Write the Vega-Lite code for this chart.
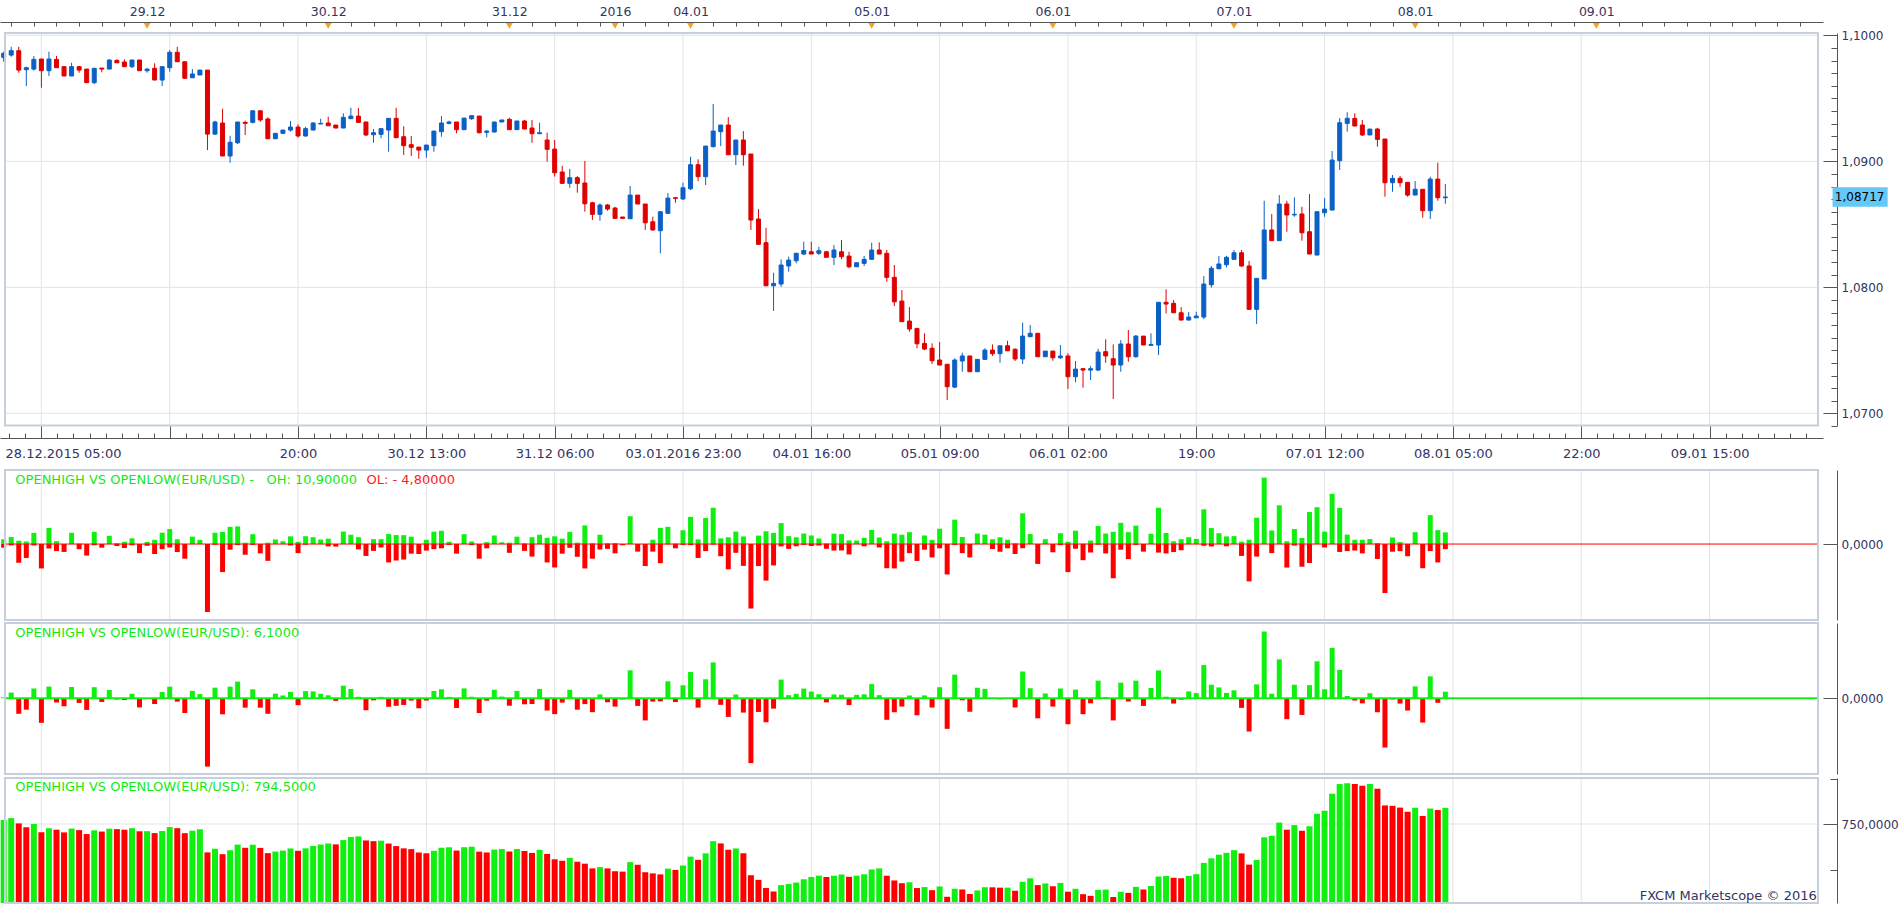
{
"$schema": "https://vega.github.io/schema/vega-lite/v6.json",
"width": 1903, "height": 905, "padding": 0, "autosize": {"type": "none"}, "background": "white",
"config": {"view": {"stroke": null}, "font": "DejaVu Sans", "axis": {"labelFont": "DejaVu Sans", "labelColor": "#34345f", "domainColor": "#555555", "tickColor": "#555555", "grid": false, "labelOverlap": false, "labelBound": false}},
"datasets": {
"grid": [{"j":4},{"j":21},{"j":38},{"j":55},{"j":72},{"j":89},{"j":106},{"j":123},{"j":140},{"j":157},{"j":174},{"j":191},{"j":208},{"j":225}],
"markers": [{"j":18},{"j":42},{"j":66},{"j":80},{"j":90},{"j":114},{"j":138},{"j":162},{"j":186},{"j":210}],
"c": [
{"j":-1,"o":1.09825,"h":1.0987,"l":1.0979,"c":1.09857,"oh":4.5,"ol":-3.5,"net":1.0,"cum":760.8},
{"j":0,"o":1.09843,"h":1.09909,"l":1.0983,"c":1.09878,"oh":6.6,"ol":-1.3,"net":5.3,"cum":766.1},
{"j":1,"o":1.09878,"h":1.09909,"l":1.09703,"c":1.09724,"oh":3.1,"ol":-17.5,"net":-14.4,"cum":751.7},
{"j":2,"o":1.09727,"h":1.09751,"l":1.09597,"c":1.09743,"oh":2.4,"ol":-13.0,"net":-10.6,"cum":741.1},
{"j":3,"o":1.09732,"h":1.09836,"l":1.09719,"c":1.09809,"oh":10.4,"ol":-1.3,"net":9.1,"cum":750.2},
{"j":4,"o":1.09812,"h":1.09812,"l":1.09584,"c":1.09719,"oh":0,"ol":-22.8,"net":-22.8,"cum":727.4},
{"j":5,"o":1.09719,"h":1.0987,"l":1.09677,"c":1.09812,"oh":15.1,"ol":-4.2,"net":10.9,"cum":738.3},
{"j":6,"o":1.09809,"h":1.09836,"l":1.09743,"c":1.09743,"oh":2.7,"ol":-6.6,"net":-3.9,"cum":734.4},
{"j":7,"o":1.09751,"h":1.09751,"l":1.09677,"c":1.09677,"oh":0,"ol":-7.4,"net":-7.4,"cum":727.0},
{"j":8,"o":1.09677,"h":1.09782,"l":1.09677,"c":1.09751,"oh":10.5,"ol":0,"net":10.5,"cum":737.5},
{"j":9,"o":1.09751,"h":1.09756,"l":1.09703,"c":1.09724,"oh":0.5,"ol":-4.8,"net":-4.3,"cum":733.2},
{"j":10,"o":1.09732,"h":1.09732,"l":1.09624,"c":1.09624,"oh":0,"ol":-10.8,"net":-10.8,"cum":722.4},
{"j":11,"o":1.09624,"h":1.09738,"l":1.09613,"c":1.09738,"oh":11.4,"ol":-1.1,"net":10.3,"cum":732.7},
{"j":12,"o":1.0974,"h":1.0974,"l":1.09706,"c":1.09732,"oh":0,"ol":-3.4,"net":-3.4,"cum":729.3},
{"j":13,"o":1.09732,"h":1.09809,"l":1.09732,"c":1.09804,"oh":7.7,"ol":0,"net":7.7,"cum":737.0},
{"j":14,"o":1.09801,"h":1.09809,"l":1.09782,"c":1.09782,"oh":0.8,"ol":-1.9,"net":-1.1,"cum":735.9},
{"j":15,"o":1.09788,"h":1.09809,"l":1.09751,"c":1.09751,"oh":2.1,"ol":-3.7,"net":-1.6,"cum":734.3},
{"j":16,"o":1.09751,"h":1.09804,"l":1.0974,"c":1.09804,"oh":5.3,"ol":-1.1,"net":4.2,"cum":738.5},
{"j":17,"o":1.09804,"h":1.09804,"l":1.09719,"c":1.09719,"oh":0,"ol":-8.5,"net":-8.5,"cum":730.0},
{"j":18,"o":1.09719,"h":1.09738,"l":1.09703,"c":1.09732,"oh":1.9,"ol":-1.6,"net":0.3,"cum":730.3},
{"j":19,"o":1.09738,"h":1.09778,"l":1.09645,"c":1.09645,"oh":4.0,"ol":-9.3,"net":-5.3,"cum":725.0},
{"j":20,"o":1.09645,"h":1.09751,"l":1.09597,"c":1.09751,"oh":10.6,"ol":-4.8,"net":5.8,"cum":730.8},
{"j":21,"o":1.09743,"h":1.09883,"l":1.09711,"c":1.09865,"oh":14.0,"ol":-3.2,"net":10.8,"cum":741.6},
{"j":22,"o":1.09865,"h":1.09909,"l":1.0979,"c":1.0979,"oh":4.4,"ol":-7.5,"net":-3.1,"cum":738.5},
{"j":23,"o":1.0979,"h":1.0979,"l":1.09653,"c":1.09659,"oh":0,"ol":-13.7,"net":-13.7,"cum":724.8},
{"j":24,"o":1.09663,"h":1.09732,"l":1.09663,"c":1.09693,"oh":6.9,"ol":0,"net":6.9,"cum":731.7},
{"j":25,"o":1.09685,"h":1.09724,"l":1.09685,"c":1.09724,"oh":3.9,"ol":0,"net":3.9,"cum":735.6},
{"j":26,"o":1.09724,"h":1.09724,"l":1.09089,"c":1.09216,"oh":0,"ol":-63.5,"net":-63.5,"cum":672.1},
{"j":27,"o":1.09216,"h":1.09322,"l":1.09209,"c":1.09312,"oh":10.6,"ol":-0.7,"net":9.9,"cum":682.0},
{"j":28,"o":1.09304,"h":1.09417,"l":1.09042,"c":1.09042,"oh":11.3,"ol":-26.2,"net":-14.9,"cum":667.1},
{"j":29,"o":1.09042,"h":1.09203,"l":1.08989,"c":1.09151,"oh":16.1,"ol":-5.3,"net":10.8,"cum":677.9},
{"j":30,"o":1.09147,"h":1.09312,"l":1.09137,"c":1.09312,"oh":16.5,"ol":-1.0,"net":15.5,"cum":693.4},
{"j":31,"o":1.09309,"h":1.09322,"l":1.09209,"c":1.09301,"oh":1.3,"ol":-10.0,"net":-8.7,"cum":684.7},
{"j":32,"o":1.09309,"h":1.09401,"l":1.09301,"c":1.09401,"oh":9.2,"ol":-0.8,"net":8.4,"cum":693.1},
{"j":33,"o":1.09401,"h":1.09401,"l":1.09314,"c":1.09328,"oh":0,"ol":-8.7,"net":-8.7,"cum":684.4},
{"j":34,"o":1.09336,"h":1.09349,"l":1.09179,"c":1.09179,"oh":1.3,"ol":-15.7,"net":-14.4,"cum":670.0},
{"j":35,"o":1.09179,"h":1.09222,"l":1.09179,"c":1.09222,"oh":4.3,"ol":0,"net":4.3,"cum":674.3},
{"j":36,"o":1.09222,"h":1.09248,"l":1.09222,"c":1.09248,"oh":2.6,"ol":0,"net":2.6,"cum":676.9},
{"j":37,"o":1.09248,"h":1.0932,"l":1.09235,"c":1.09272,"oh":7.2,"ol":-1.3,"net":5.9,"cum":682.8},
{"j":38,"o":1.09272,"h":1.09293,"l":1.09187,"c":1.09201,"oh":2.1,"ol":-8.5,"net":-6.4,"cum":676.4},
{"j":39,"o":1.09201,"h":1.09274,"l":1.09195,"c":1.09259,"oh":7.3,"ol":-0.6,"net":6.7,"cum":683.1},
{"j":40,"o":1.09248,"h":1.09312,"l":1.09248,"c":1.09304,"oh":6.4,"ol":0,"net":6.4,"cum":689.5},
{"j":41,"o":1.09296,"h":1.09338,"l":1.09296,"c":1.09301,"oh":4.2,"ol":0,"net":4.2,"cum":693.7},
{"j":42,"o":1.09304,"h":1.09354,"l":1.09282,"c":1.09282,"oh":5.0,"ol":-2.2,"net":2.8,"cum":696.5},
{"j":43,"o":1.09288,"h":1.09288,"l":1.09264,"c":1.09264,"oh":0,"ol":-2.4,"net":-2.4,"cum":694.1},
{"j":44,"o":1.09264,"h":1.09381,"l":1.09264,"c":1.09349,"oh":11.7,"ol":0,"net":11.7,"cum":705.8},
{"j":45,"o":1.09338,"h":1.09425,"l":1.09338,"c":1.09359,"oh":8.7,"ol":0,"net":8.7,"cum":714.5},
{"j":46,"o":1.09359,"h":1.09423,"l":1.09309,"c":1.09309,"oh":6.4,"ol":-5.0,"net":1.4,"cum":715.9},
{"j":47,"o":1.09312,"h":1.09312,"l":1.09201,"c":1.09209,"oh":0,"ol":-11.1,"net":-11.1,"cum":704.8},
{"j":48,"o":1.09211,"h":1.09256,"l":1.09147,"c":1.09227,"oh":4.5,"ol":-6.4,"net":-1.9,"cum":702.9},
{"j":49,"o":1.09214,"h":1.09259,"l":1.09182,"c":1.09259,"oh":4.5,"ol":-3.2,"net":1.3,"cum":704.2},
{"j":50,"o":1.09248,"h":1.09341,"l":1.09076,"c":1.09341,"oh":9.3,"ol":-17.2,"net":-7.9,"cum":696.3},
{"j":51,"o":1.09341,"h":1.09425,"l":1.09187,"c":1.09187,"oh":8.4,"ol":-15.4,"net":-7.0,"cum":689.3},
{"j":52,"o":1.09195,"h":1.09278,"l":1.0905,"c":1.09124,"oh":8.3,"ol":-14.5,"net":-6.2,"cum":683.1},
{"j":53,"o":1.09132,"h":1.09201,"l":1.09042,"c":1.09111,"oh":6.9,"ol":-9.0,"net":-2.1,"cum":681.0},
{"j":54,"o":1.09113,"h":1.09113,"l":1.0902,"c":1.09089,"oh":0,"ol":-9.3,"net":-9.3,"cum":671.7},
{"j":55,"o":1.09089,"h":1.09129,"l":1.09028,"c":1.09129,"oh":4.0,"ol":-6.1,"net":-2.1,"cum":669.6},
{"j":56,"o":1.09124,"h":1.0924,"l":1.09076,"c":1.0924,"oh":11.6,"ol":-4.8,"net":6.8,"cum":676.4},
{"j":57,"o":1.09235,"h":1.09359,"l":1.09195,"c":1.09304,"oh":12.4,"ol":-4.0,"net":8.4,"cum":684.8},
{"j":58,"o":1.09301,"h":1.09322,"l":1.09293,"c":1.09312,"oh":2.1,"ol":-0.8,"net":1.3,"cum":686.1},
{"j":59,"o":1.09312,"h":1.09312,"l":1.09222,"c":1.09251,"oh":0,"ol":-9.0,"net":-9.0,"cum":677.1},
{"j":60,"o":1.09251,"h":1.09343,"l":1.09251,"c":1.09343,"oh":9.2,"ol":0,"net":9.2,"cum":686.3},
{"j":61,"o":1.09338,"h":1.09362,"l":1.09328,"c":1.09362,"oh":2.4,"ol":-1.0,"net":1.4,"cum":687.7},
{"j":62,"o":1.09359,"h":1.09359,"l":1.09222,"c":1.09227,"oh":0,"ol":-13.7,"net":-13.7,"cum":674.0},
{"j":63,"o":1.0923,"h":1.09248,"l":1.0919,"c":1.0924,"oh":1.8,"ol":-4.0,"net":-2.2,"cum":671.8},
{"j":64,"o":1.09232,"h":1.09312,"l":1.09232,"c":1.09312,"oh":8.0,"ol":0,"net":8.0,"cum":679.8},
{"j":65,"o":1.09312,"h":1.09328,"l":1.09312,"c":1.09328,"oh":1.6,"ol":0,"net":1.6,"cum":681.4},
{"j":66,"o":1.09333,"h":1.09346,"l":1.09251,"c":1.09251,"oh":1.3,"ol":-8.2,"net":-6.9,"cum":674.5},
{"j":67,"o":1.09251,"h":1.0932,"l":1.09251,"c":1.0932,"oh":6.9,"ol":0,"net":6.9,"cum":681.4},
{"j":68,"o":1.0932,"h":1.09328,"l":1.09256,"c":1.09256,"oh":0.8,"ol":-6.4,"net":-5.6,"cum":675.8},
{"j":69,"o":1.09264,"h":1.09328,"l":1.09147,"c":1.09219,"oh":6.4,"ol":-11.7,"net":-5.3,"cum":670.5},
{"j":70,"o":1.09219,"h":1.09306,"l":1.09219,"c":1.09227,"oh":8.7,"ol":0,"net":8.7,"cum":679.2},
{"j":71,"o":1.09169,"h":1.09227,"l":1.08997,"c":1.09095,"oh":5.8,"ol":-17.2,"net":-11.4,"cum":667.8},
{"j":72,"o":1.09097,"h":1.09169,"l":1.08878,"c":1.08909,"oh":7.2,"ol":-21.9,"net":-14.7,"cum":653.1},
{"j":73,"o":1.08915,"h":1.08965,"l":1.08825,"c":1.08825,"oh":5.0,"ol":-9.0,"net":-4.0,"cum":649.1},
{"j":74,"o":1.08825,"h":1.08939,"l":1.0879,"c":1.0887,"oh":11.4,"ol":-3.5,"net":7.9,"cum":657.0},
{"j":75,"o":1.0887,"h":1.08883,"l":1.08751,"c":1.08825,"oh":1.3,"ol":-11.9,"net":-10.6,"cum":646.4},
{"j":76,"o":1.08828,"h":1.09002,"l":1.086,"c":1.08663,"oh":17.4,"ol":-22.8,"net":-5.4,"cum":641.0},
{"j":77,"o":1.08671,"h":1.08679,"l":1.08534,"c":1.08579,"oh":0.8,"ol":-13.7,"net":-12.9,"cum":628.1},
{"j":78,"o":1.08579,"h":1.08666,"l":1.08528,"c":1.08653,"oh":8.7,"ol":-5.1,"net":3.6,"cum":631.7},
{"j":79,"o":1.08653,"h":1.08661,"l":1.08608,"c":1.08621,"oh":0.8,"ol":-4.5,"net":-3.7,"cum":628.0},
{"j":80,"o":1.08629,"h":1.08639,"l":1.08542,"c":1.08547,"oh":1.0,"ol":-8.7,"net":-7.7,"cum":620.3},
{"j":81,"o":1.08558,"h":1.08558,"l":1.08547,"c":1.08547,"oh":0,"ol":-1.1,"net":-1.1,"cum":619.2},
{"j":82,"o":1.08544,"h":1.08804,"l":1.08544,"c":1.08732,"oh":26.0,"ol":0,"net":26.0,"cum":645.2},
{"j":83,"o":1.08732,"h":1.08732,"l":1.08661,"c":1.08661,"oh":0,"ol":-7.1,"net":-7.1,"cum":638.1},
{"j":84,"o":1.08661,"h":1.08661,"l":1.08455,"c":1.08512,"oh":0,"ol":-20.6,"net":-20.6,"cum":617.5},
{"j":85,"o":1.0852,"h":1.0856,"l":1.08449,"c":1.08455,"oh":4.0,"ol":-7.1,"net":-3.1,"cum":614.4},
{"j":86,"o":1.08449,"h":1.086,"l":1.0827,"c":1.086,"oh":15.1,"ol":-17.9,"net":-2.8,"cum":611.6},
{"j":87,"o":1.08587,"h":1.08748,"l":1.08584,"c":1.08708,"oh":16.1,"ol":-0.3,"net":15.8,"cum":627.4},
{"j":88,"o":1.08711,"h":1.08716,"l":1.08671,"c":1.08706,"oh":0.5,"ol":-4.0,"net":-3.5,"cum":623.9},
{"j":89,"o":1.08701,"h":1.0883,"l":1.08693,"c":1.0879,"oh":12.9,"ol":-0.8,"net":12.1,"cum":636.0},
{"j":90,"o":1.08782,"h":1.09036,"l":1.08772,"c":1.08973,"oh":25.4,"ol":-1.0,"net":24.4,"cum":660.4},
{"j":91,"o":1.08973,"h":1.09016,"l":1.08843,"c":1.08878,"oh":4.3,"ol":-13.0,"net":-8.7,"cum":651.7},
{"j":92,"o":1.08878,"h":1.09121,"l":1.08812,"c":1.09121,"oh":24.3,"ol":-6.6,"net":17.7,"cum":669.4},
{"j":93,"o":1.09116,"h":1.09455,"l":1.09111,"c":1.0924,"oh":33.9,"ol":-0.5,"net":33.4,"cum":702.8},
{"j":94,"o":1.09235,"h":1.09288,"l":1.09121,"c":1.09288,"oh":5.3,"ol":-11.4,"net":-6.1,"cum":696.7},
{"j":95,"o":1.09288,"h":1.09351,"l":1.09052,"c":1.09052,"oh":6.3,"ol":-23.6,"net":-17.3,"cum":679.4},
{"j":96,"o":1.09052,"h":1.09169,"l":1.0897,"c":1.09169,"oh":11.7,"ol":-8.2,"net":3.5,"cum":682.9},
{"j":97,"o":1.09169,"h":1.0924,"l":1.08965,"c":1.09052,"oh":7.1,"ol":-20.4,"net":-13.3,"cum":669.6},
{"j":98,"o":1.09058,"h":1.09058,"l":1.08455,"c":1.08534,"oh":0,"ol":-60.3,"net":-60.3,"cum":609.3},
{"j":99,"o":1.08542,"h":1.08621,"l":1.08336,"c":1.08341,"oh":7.9,"ol":-20.6,"net":-12.7,"cum":596.6},
{"j":100,"o":1.08354,"h":1.08473,"l":1.08012,"c":1.08012,"oh":11.9,"ol":-34.2,"net":-22.3,"cum":574.3},
{"j":101,"o":1.08012,"h":1.08116,"l":1.07812,"c":1.08031,"oh":10.4,"ol":-20.0,"net":-9.6,"cum":564.7},
{"j":102,"o":1.08026,"h":1.08222,"l":1.08004,"c":1.08177,"oh":19.6,"ol":-2.2,"net":17.4,"cum":582.1},
{"j":103,"o":1.08169,"h":1.08243,"l":1.08124,"c":1.08216,"oh":7.4,"ol":-4.5,"net":2.9,"cum":585.0},
{"j":104,"o":1.08211,"h":1.08274,"l":1.0819,"c":1.0827,"oh":6.3,"ol":-2.1,"net":4.2,"cum":589.2},
{"j":105,"o":1.08264,"h":1.08362,"l":1.08256,"c":1.08292,"oh":9.8,"ol":-0.8,"net":9.0,"cum":598.2},
{"j":106,"o":1.08282,"h":1.08362,"l":1.08264,"c":1.08264,"oh":8.0,"ol":-1.8,"net":6.2,"cum":604.4},
{"j":107,"o":1.0827,"h":1.08322,"l":1.08256,"c":1.0829,"oh":5.2,"ol":-1.4,"net":3.8,"cum":608.2},
{"j":108,"o":1.08282,"h":1.08288,"l":1.08238,"c":1.08238,"oh":0.6,"ol":-4.4,"net":-3.8,"cum":604.4},
{"j":109,"o":1.08238,"h":1.08335,"l":1.08177,"c":1.08296,"oh":9.7,"ol":-6.1,"net":3.6,"cum":608.0},
{"j":110,"o":1.08282,"h":1.08375,"l":1.08222,"c":1.08243,"oh":9.3,"ol":-6.0,"net":3.3,"cum":611.3},
{"j":111,"o":1.08248,"h":1.08282,"l":1.08151,"c":1.08163,"oh":3.4,"ol":-9.7,"net":-6.3,"cum":605.0},
{"j":112,"o":1.08163,"h":1.08195,"l":1.08163,"c":1.08195,"oh":3.2,"ol":0,"net":3.2,"cum":608.2},
{"j":113,"o":1.0819,"h":1.08248,"l":1.08169,"c":1.08222,"oh":5.8,"ol":-2.1,"net":3.7,"cum":611.9},
{"j":114,"o":1.08222,"h":1.08354,"l":1.08222,"c":1.08296,"oh":13.2,"ol":0,"net":13.2,"cum":625.1},
{"j":115,"o":1.08296,"h":1.08357,"l":1.08264,"c":1.08264,"oh":6.1,"ol":-3.2,"net":2.9,"cum":628.0},
{"j":116,"o":1.0827,"h":1.08296,"l":1.08044,"c":1.08079,"oh":2.6,"ol":-22.6,"net":-20.0,"cum":608.0},
{"j":117,"o":1.08079,"h":1.08177,"l":1.07851,"c":1.07885,"oh":9.8,"ol":-22.8,"net":-13.0,"cum":595.0},
{"j":118,"o":1.07891,"h":1.07978,"l":1.07727,"c":1.07727,"oh":8.7,"ol":-16.4,"net":-7.7,"cum":587.3},
{"j":119,"o":1.07732,"h":1.07843,"l":1.07647,"c":1.07669,"oh":11.1,"ol":-8.5,"net":2.6,"cum":589.9},
{"j":120,"o":1.07674,"h":1.07674,"l":1.07516,"c":1.07552,"oh":0,"ol":-15.8,"net":-15.8,"cum":574.1},
{"j":121,"o":1.07555,"h":1.07635,"l":1.07502,"c":1.0751,"oh":8.0,"ol":-5.3,"net":2.7,"cum":576.8},
{"j":122,"o":1.07516,"h":1.07555,"l":1.07391,"c":1.07417,"oh":3.9,"ol":-12.5,"net":-8.6,"cum":568.2},
{"j":123,"o":1.07423,"h":1.07566,"l":1.07383,"c":1.07383,"oh":14.3,"ol":-4.0,"net":10.3,"cum":578.5},
{"j":124,"o":1.07389,"h":1.07389,"l":1.07105,"c":1.07211,"oh":0,"ol":-28.4,"net":-28.4,"cum":550.1},
{"j":125,"o":1.07208,"h":1.07436,"l":1.072,"c":1.07423,"oh":22.8,"ol":-0.8,"net":22.0,"cum":572.1},
{"j":126,"o":1.07415,"h":1.07481,"l":1.0733,"c":1.07455,"oh":6.6,"ol":-8.5,"net":-1.9,"cum":570.2},
{"j":127,"o":1.07455,"h":1.07455,"l":1.0733,"c":1.0733,"oh":0,"ol":-12.5,"net":-12.5,"cum":557.7},
{"j":128,"o":1.0733,"h":1.07428,"l":1.0733,"c":1.07428,"oh":9.8,"ol":0,"net":9.8,"cum":567.5},
{"j":129,"o":1.07428,"h":1.07516,"l":1.07428,"c":1.07502,"oh":8.8,"ol":0,"net":8.8,"cum":576.3},
{"j":130,"o":1.07502,"h":1.07547,"l":1.07455,"c":1.07473,"oh":4.5,"ol":-4.7,"net":-0.2,"cum":576.1},
{"j":131,"o":1.07473,"h":1.07536,"l":1.07401,"c":1.07536,"oh":6.3,"ol":-7.2,"net":-0.9,"cum":575.2},
{"j":132,"o":1.07536,"h":1.07576,"l":1.07496,"c":1.07496,"oh":4.0,"ol":-4.0,"net":0,"cum":575.2},
{"j":133,"o":1.07508,"h":1.07516,"l":1.07415,"c":1.07431,"oh":0.8,"ol":-9.3,"net":-8.5,"cum":566.7},
{"j":134,"o":1.07431,"h":1.07719,"l":1.07391,"c":1.07613,"oh":28.8,"ol":-4.0,"net":24.8,"cum":591.5},
{"j":135,"o":1.07608,"h":1.07701,"l":1.07608,"c":1.07635,"oh":9.3,"ol":0,"net":9.3,"cum":600.8},
{"j":136,"o":1.07635,"h":1.07635,"l":1.07449,"c":1.07449,"oh":0,"ol":-18.6,"net":-18.6,"cum":582.2},
{"j":137,"o":1.07449,"h":1.07494,"l":1.07449,"c":1.07494,"oh":4.5,"ol":0,"net":4.5,"cum":586.7},
{"j":138,"o":1.07494,"h":1.07494,"l":1.07417,"c":1.07441,"oh":0,"ol":-7.7,"net":-7.7,"cum":579.0},
{"j":139,"o":1.07441,"h":1.07542,"l":1.07431,"c":1.07455,"oh":10.1,"ol":-1.0,"net":9.1,"cum":588.1},
{"j":140,"o":1.07455,"h":1.07476,"l":1.07193,"c":1.0729,"oh":2.1,"ol":-26.2,"net":-24.1,"cum":564.0},
{"j":141,"o":1.0729,"h":1.07415,"l":1.07246,"c":1.07351,"oh":12.5,"ol":-4.4,"net":8.1,"cum":572.1},
{"j":142,"o":1.07354,"h":1.07357,"l":1.07203,"c":1.07343,"oh":0.3,"ol":-15.1,"net":-14.8,"cum":557.3},
{"j":143,"o":1.07343,"h":1.07375,"l":1.07264,"c":1.07354,"oh":3.2,"ol":-7.9,"net":-4.7,"cum":552.6},
{"j":144,"o":1.07343,"h":1.07512,"l":1.07338,"c":1.07486,"oh":16.9,"ol":-0.5,"net":16.4,"cum":569.0},
{"j":145,"o":1.07489,"h":1.07587,"l":1.07401,"c":1.07455,"oh":9.8,"ol":-8.8,"net":1.0,"cum":570.0},
{"j":146,"o":1.07433,"h":1.07547,"l":1.07113,"c":1.07383,"oh":11.4,"ol":-32.0,"net":-20.6,"cum":549.4},
{"j":147,"o":1.07383,"h":1.07581,"l":1.0733,"c":1.0755,"oh":19.8,"ol":-5.3,"net":14.5,"cum":563.9},
{"j":148,"o":1.0755,"h":1.07661,"l":1.07409,"c":1.07449,"oh":11.1,"ol":-14.1,"net":-3.0,"cum":560.9},
{"j":149,"o":1.07449,"h":1.07621,"l":1.07441,"c":1.07613,"oh":17.2,"ol":-0.8,"net":16.4,"cum":577.3},
{"j":150,"o":1.07613,"h":1.07613,"l":1.07542,"c":1.07542,"oh":0,"ol":-7.1,"net":-7.1,"cum":570.2},
{"j":151,"o":1.07539,"h":1.07635,"l":1.07539,"c":1.07547,"oh":9.6,"ol":0,"net":9.6,"cum":579.8},
{"j":152,"o":1.07542,"h":1.07881,"l":1.07462,"c":1.07881,"oh":33.9,"ol":-8.0,"net":25.9,"cum":605.7},
{"j":153,"o":1.07881,"h":1.07984,"l":1.07793,"c":1.07867,"oh":10.3,"ol":-8.8,"net":1.5,"cum":607.2},
{"j":154,"o":1.07873,"h":1.07899,"l":1.07798,"c":1.07798,"oh":2.6,"ol":-7.5,"net":-4.9,"cum":602.3},
{"j":155,"o":1.07798,"h":1.07843,"l":1.0774,"c":1.0774,"oh":4.5,"ol":-5.8,"net":-1.3,"cum":601.0},
{"j":156,"o":1.0774,"h":1.07804,"l":1.0774,"c":1.07764,"oh":6.4,"ol":0,"net":6.4,"cum":607.4},
{"j":157,"o":1.07758,"h":1.07806,"l":1.07758,"c":1.07772,"oh":4.8,"ol":0,"net":4.8,"cum":612.2},
{"j":158,"o":1.07764,"h":1.08089,"l":1.07748,"c":1.08026,"oh":32.5,"ol":-1.6,"net":30.9,"cum":643.1},
{"j":159,"o":1.0802,"h":1.08169,"l":1.07997,"c":1.08151,"oh":14.9,"ol":-2.3,"net":12.6,"cum":655.7},
{"j":160,"o":1.08147,"h":1.08248,"l":1.08147,"c":1.08185,"oh":10.1,"ol":0,"net":10.1,"cum":665.8},
{"j":161,"o":1.08179,"h":1.0825,"l":1.08158,"c":1.08238,"oh":7.1,"ol":-2.1,"net":5.0,"cum":670.8},
{"j":162,"o":1.08222,"h":1.08296,"l":1.08222,"c":1.08274,"oh":7.4,"ol":0,"net":7.4,"cum":678.2},
{"j":163,"o":1.08274,"h":1.08296,"l":1.08163,"c":1.08169,"oh":2.2,"ol":-11.1,"net":-8.9,"cum":669.3},
{"j":164,"o":1.08169,"h":1.08209,"l":1.0782,"c":1.07825,"oh":4.0,"ol":-34.9,"net":-30.9,"cum":638.4},
{"j":165,"o":1.07825,"h":1.08071,"l":1.07708,"c":1.08071,"oh":24.6,"ol":-11.7,"net":12.9,"cum":651.3},
{"j":166,"o":1.08066,"h":1.08687,"l":1.08066,"c":1.08455,"oh":62.1,"ol":0,"net":62.1,"cum":713.4},
{"j":167,"o":1.08455,"h":1.08582,"l":1.0837,"c":1.0837,"oh":12.7,"ol":-8.5,"net":4.2,"cum":717.6},
{"j":168,"o":1.0837,"h":1.08732,"l":1.0837,"c":1.08661,"oh":36.2,"ol":0,"net":36.2,"cum":753.8},
{"j":169,"o":1.08661,"h":1.08687,"l":1.08441,"c":1.08574,"oh":2.6,"ol":-22.0,"net":-19.4,"cum":734.4},
{"j":170,"o":1.08574,"h":1.08714,"l":1.0856,"c":1.08579,"oh":14.0,"ol":-1.4,"net":12.6,"cum":747.0},
{"j":171,"o":1.08582,"h":1.08639,"l":1.0837,"c":1.08433,"oh":5.7,"ol":-21.2,"net":-15.5,"cum":731.5},
{"j":172,"o":1.08441,"h":1.0874,"l":1.08264,"c":1.08264,"oh":29.9,"ol":-17.7,"net":12.2,"cum":743.7},
{"j":173,"o":1.08256,"h":1.086,"l":1.08256,"c":1.086,"oh":34.4,"ol":0,"net":34.4,"cum":778.1},
{"j":174,"o":1.08592,"h":1.08708,"l":1.0856,"c":1.08621,"oh":11.6,"ol":-3.2,"net":8.4,"cum":786.5},
{"j":175,"o":1.08613,"h":1.09082,"l":1.08613,"c":1.0901,"oh":46.9,"ol":0,"net":46.9,"cum":833.4},
{"j":176,"o":1.09005,"h":1.09343,"l":1.08931,"c":1.09306,"oh":33.8,"ol":-7.4,"net":26.4,"cum":859.8},
{"j":177,"o":1.09301,"h":1.09389,"l":1.09235,"c":1.09341,"oh":8.8,"ol":-6.6,"net":2.2,"cum":862.0},
{"j":178,"o":1.09341,"h":1.09381,"l":1.0928,"c":1.0928,"oh":4.0,"ol":-6.1,"net":-2.1,"cum":859.9},
{"j":179,"o":1.09288,"h":1.09328,"l":1.09201,"c":1.09209,"oh":4.0,"ol":-8.7,"net":-4.7,"cum":855.2},
{"j":180,"o":1.09209,"h":1.09256,"l":1.09209,"c":1.09256,"oh":4.7,"ol":0,"net":4.7,"cum":859.9},
{"j":181,"o":1.09256,"h":1.09266,"l":1.09116,"c":1.09174,"oh":1.0,"ol":-14.0,"net":-13.0,"cum":846.9},
{"j":182,"o":1.09177,"h":1.09177,"l":1.08719,"c":1.0883,"oh":0,"ol":-45.8,"net":-45.8,"cum":801.1},
{"j":183,"o":1.0883,"h":1.08891,"l":1.08758,"c":1.08865,"oh":6.1,"ol":-7.2,"net":-1.1,"cum":800.0},
{"j":184,"o":1.08865,"h":1.08883,"l":1.08798,"c":1.0883,"oh":1.8,"ol":-6.7,"net":-4.9,"cum":795.1},
{"j":185,"o":1.08833,"h":1.08833,"l":1.08719,"c":1.08732,"oh":0,"ol":-11.4,"net":-11.4,"cum":783.7},
{"j":186,"o":1.08732,"h":1.08843,"l":1.08732,"c":1.08778,"oh":11.1,"ol":0,"net":11.1,"cum":794.8},
{"j":187,"o":1.08778,"h":1.08778,"l":1.08552,"c":1.08608,"oh":0,"ol":-22.6,"net":-22.6,"cum":772.2},
{"j":188,"o":1.08608,"h":1.08878,"l":1.08542,"c":1.08859,"oh":27.0,"ol":-6.6,"net":20.4,"cum":792.6},
{"j":189,"o":1.08859,"h":1.08989,"l":1.08687,"c":1.08711,"oh":13.0,"ol":-17.2,"net":-4.2,"cum":788.4},
{"j":190,"o":1.08711,"h":1.0882,"l":1.08663,"c":1.08717,"oh":10.9,"ol":-4.8,"net":6.1,"cum":794.5}
]
},
"resolve": {"scale": {"y": "independent"}, "axis": {"x": "independent", "y": "independent"}},
"layer": [
{"data": {"name": "grid"}, "mark": {"type": "rule", "color": "#e3e3e3"},
 "encoding": {
  "x": {"field": "j", "type": "quantitative", "scale": {"domain": [-0.822, 239.37], "range": [0, 1823], "nice": false, "zero": false},
        "axis": {"orient": "bottom", "offset": -467, "values": [4,21,38,55,72,89,106,123,140,157,174,191,208,225], "tickSize": -12.5, "labels": false, "domain": true, "title": null}},
  "y": {"datum": 1.069032, "type": "quantitative", "scale": {"domain": [1.069032, 1.100183], "range": [425.5, 33], "nice": false, "zero": false}, "axis": null},
  "y2": {"datum": 1.100183}}},
{"data": {"name": "grid"}, "mark": {"type": "rule", "color": "#e3e3e3"},
 "encoding": {
  "x": {"field": "j", "type": "quantitative", "scale": {"domain": [-0.822, 239.37], "range": [0, 1823], "nice": false, "zero": false},
        "axis": {"orient": "bottom", "offset": -467, "values": [-0.25,1.875,6.125,8.25,10.375,12.5,14.625,16.75,18.875,23.125,25.25,27.375,29.5,31.625,33.75,35.875,40.125,42.25,44.375,46.5,48.625,50.75,52.875,57.125,59.25,61.375,63.5,65.625,67.75,69.875,74.125,76.25,78.375,80.5,82.625,84.75,86.875,91.125,93.25,95.375,97.5,99.625,101.75,103.875,108.125,110.25,112.375,114.5,116.625,118.75,120.875,125.125,127.25,129.375,131.5,133.625,135.75,137.875,142.125,144.25,146.375,148.5,150.625,152.75,154.875,159.125,161.25,163.375,165.5,167.625,169.75,171.875,176.125,178.25,180.375,182.5,184.625,186.75,188.875,193.125,195.25,197.375,199.5,201.625,203.75,205.875,210.125,212.25,214.375,216.5,218.625,220.75,222.875,227.125,229.25,231.375,233.5,235.625,237.75], "tickSize": -5, "labels": false, "domain": false, "title": null}},
  "y": {"datum": -71, "type": "quantitative", "scale": {"domain": [-71, 69.2], "range": [620, 470], "nice": false, "zero": false}, "axis": null},
  "y2": {"datum": 69.2}}},
{"data": {"name": "grid"}, "mark": {"type": "rule", "color": "#e3e3e3"},
 "encoding": {
  "x": {"field": "j", "type": "quantitative", "scale": {"domain": [-0.822, 239.37], "range": [0, 1823], "nice": false, "zero": false},
        "axis": {"orient": "bottom", "offset": -467, "values": [-0.822,38,55,72,89,106,123,140,157,174,191,208,225], "ticks": false, "domain": false, "labelPadding": 9, "labelFontSize": 13, "labelFlush": false, "title": null,
                 "labelAlign": {"condition": {"test": "datum.value < 0", "value": "left"}, "value": "center"},
                 "labelExpr": "datum.value < 0 ? '28.12.2015 05:00' : datum.value == 38 ? '20:00' : datum.value == 55 ? '30.12 13:00' : datum.value == 72 ? '31.12 06:00' : datum.value == 89 ? '03.01.2016 23:00' : datum.value == 106 ? '04.01 16:00' : datum.value == 123 ? '05.01 09:00' : datum.value == 140 ? '06.01 02:00' : datum.value == 157 ? '19:00' : datum.value == 174 ? '07.01 12:00' : datum.value == 191 ? '08.01 05:00' : datum.value == 208 ? '22:00' : '09.01 15:00'"}},
  "y": {"datum": -70.4, "type": "quantitative", "scale": {"domain": [-70.4, 70], "range": [774, 623], "nice": false, "zero": false}, "axis": null},
  "y2": {"datum": 70}}},
{"data": {"name": "grid"}, "mark": {"type": "rule", "color": "#e3e3e3"},
 "encoding": {
  "x": {"field": "j", "type": "quantitative", "scale": {"domain": [-0.822, 239.37], "range": [0, 1823], "nice": false, "zero": false},
        "axis": {"orient": "top", "offset": -22, "values": [0,3,6,9,12,15,18,21,24,27,30,33,36,39,42,45,48,51,54,57,60,63,66,69,72,75,78,81,84,87,90,93,96,99,102,105,108,111,114,117,120,123,126,129,132,135,138,141,144,147,150,153,156,159,162,165,168,171,174,177,180,183,186,189,192,195,198,201,204,207,210,213,216,219,222,225,228,231,234,237], "tickSize": -4, "labels": false, "domain": true, "title": null}},
  "y": {"datum": 533, "type": "quantitative", "scale": {"domain": [533, 876.4], "range": [903, 778], "nice": false, "zero": false}, "axis": null},
  "y2": {"datum": 876.4}}},
{"data": {"values": [{"v": 1.07}, {"v": 1.08}, {"v": 1.09}, {"v": 1.1}]}, "mark": {"type": "rule", "color": "#e3e3e3"},
 "encoding": {
  "y": {"field": "v", "type": "quantitative", "scale": {"domain": [1.069032, 1.100183], "range": [425.5, 33], "nice": false, "zero": false},
        "axis": {"orient": "right", "offset": -66, "values": [1.07, 1.08, 1.09, 1.1], "tickSize": -14, "labels": false, "domain": true, "title": null}},
  "x": {"datum": -0.822, "type": "quantitative", "scale": {"domain": [-0.822, 239.37], "range": [0, 1823], "nice": false, "zero": false}, "axis": null},
  "x2": {"datum": 239.37}}},
{"data": {"values": [{"v": 750}]}, "mark": {"type": "rule", "color": "#e3e3e3"},
 "encoding": {
  "y": {"field": "v", "type": "quantitative", "scale": {"domain": [533, 876.4], "range": [903, 778], "nice": false, "zero": false},
        "axis": {"orient": "right", "offset": -66, "values": [625, 875], "tickSize": -7, "labels": false, "domain": true, "title": null}},
  "x": {"datum": -0.822, "type": "quantitative", "scale": {"domain": [-0.822, 239.37], "range": [0, 1823], "nice": false, "zero": false}, "axis": null},
  "x2": {"datum": 239.37}}},
{"data": {"name": "c"}, "mark": {"type": "rule", "strokeWidth": 1},
 "encoding": {
  "x": {"field": "j", "type": "quantitative", "scale": {"domain": [-0.822, 239.37], "range": [0, 1823], "nice": false, "zero": false}, "axis": null},
  "y": {"field": "l", "type": "quantitative", "scale": {"domain": [1.069032, 1.100183], "range": [425.5, 33], "nice": false, "zero": false},
        "axis": {"orient": "right", "offset": -66, "values": [1.069,1.071,1.072,1.073,1.074,1.075,1.076,1.077,1.078,1.079,1.081,1.082,1.083,1.084,1.085,1.086,1.087,1.088,1.089,1.091,1.092,1.093,1.094,1.095,1.096,1.097,1.098,1.099], "tickSize": -6, "labels": false, "domain": false, "title": null}},
  "y2": {"field": "h"},
  "color": {"condition": {"test": "datum.c >= datum.o", "value": "#0b60c6"}, "value": "#df0000"}}},
{"data": {"name": "c"}, "mark": {"type": "bar", "size": 4, "strokeWidth": 1},
 "encoding": {
  "x": {"field": "j", "type": "quantitative", "scale": {"domain": [-0.822, 239.37], "range": [0, 1823], "nice": false, "zero": false}, "axis": null},
  "y": {"field": "o", "type": "quantitative", "scale": {"domain": [1.069032, 1.100183], "range": [425.5, 33], "nice": false, "zero": false},
        "axis": {"orient": "right", "offset": -66, "values": [1.07, 1.08, 1.09, 1.1], "ticks": false, "domain": false, "labelPadding": 4, "labelFontSize": 12, "title": null, "labelExpr": "replace(format(datum.value, '.4f'), '.', ',')"}},
  "y2": {"field": "c"},
  "color": {"condition": {"test": "datum.c >= datum.o", "value": "#0b60c6"}, "value": "#df0000"},
  "stroke": {"condition": {"test": "datum.c >= datum.o", "value": "#0b60c6"}, "value": "#df0000"}}},
{"data": {"name": "c"}, "mark": {"type": "bar", "size": 5, "color": "#10f010"},
 "encoding": {
  "x": {"field": "j", "type": "quantitative", "scale": {"domain": [-0.822, 239.37], "range": [0, 1823], "nice": false, "zero": false}, "axis": null},
  "y": {"field": "oh", "type": "quantitative", "scale": {"domain": [-71, 69.2], "range": [620, 470], "nice": false, "zero": false},
        "axis": {"orient": "right", "offset": -66, "values": [0], "tickSize": -14, "labels": false, "domain": true, "title": null}},
  "y2": {"datum": 0}}},
{"data": {"name": "c"}, "mark": {"type": "bar", "size": 5, "color": "#fe0000"},
 "encoding": {
  "x": {"field": "j", "type": "quantitative", "scale": {"domain": [-0.822, 239.37], "range": [0, 1823], "nice": false, "zero": false}, "axis": null},
  "y": {"field": "ol", "type": "quantitative", "scale": {"domain": [-71, 69.2], "range": [620, 470], "nice": false, "zero": false},
        "axis": {"orient": "right", "offset": -66, "values": [0], "ticks": false, "domain": false, "labelPadding": 4, "labelFontSize": 12, "title": null, "labelExpr": "'0,0000'"}},
  "y2": {"datum": 0}}},
{"data": {"name": "c"}, "mark": {"type": "bar", "size": 5},
 "encoding": {
  "x": {"field": "j", "type": "quantitative", "scale": {"domain": [-0.822, 239.37], "range": [0, 1823], "nice": false, "zero": false}, "axis": null},
  "y": {"field": "net", "type": "quantitative", "scale": {"domain": [-70.4, 70], "range": [774, 623], "nice": false, "zero": false},
        "axis": {"orient": "right", "offset": -66, "values": [0], "tickSize": -14, "labels": true, "domain": true, "labelPadding": 18, "labelFontSize": 12, "title": null, "labelExpr": "'0,0000'"}},
  "y2": {"datum": 0},
  "color": {"condition": {"test": "datum.net >= 0", "value": "#10f010"}, "value": "#fe0000"}}},
{"data": {"name": "c"}, "mark": {"type": "bar", "size": 6},
 "encoding": {
  "x": {"field": "j", "type": "quantitative", "scale": {"domain": [-0.822, 239.37], "range": [0, 1823], "nice": false, "zero": false}, "axis": null},
  "y": {"field": "cum", "type": "quantitative", "scale": {"domain": [533, 876.4], "range": [903, 778], "nice": false, "zero": false},
        "axis": {"orient": "right", "offset": -66, "values": [750], "tickSize": -14, "labels": true, "domain": false, "labelPadding": 18, "labelFontSize": 12, "title": null, "labelExpr": "'750,0000'"}},
  "y2": {"datum": 533},
  "color": {"condition": {"test": "datum.net >= 0", "value": "#10f010"}, "value": "#fe0000"}}},
{"data": {"values": [{"v": 0}]}, "mark": {"type": "rule", "color": "#fe0000", "strokeWidth": 1},
 "encoding": {
  "y": {"field": "v", "type": "quantitative", "scale": {"domain": [-71, 69.2], "range": [620, 470], "nice": false, "zero": false}, "axis": null},
  "x": {"datum": -0.822, "type": "quantitative", "scale": {"domain": [-0.822, 239.37], "range": [0, 1823], "nice": false, "zero": false}, "axis": null},
  "x2": {"datum": 239.37}}},
{"data": {"values": [{"v": 0}]}, "mark": {"type": "rule", "color": "#10f010", "strokeWidth": 2},
 "encoding": {
  "y": {"field": "v", "type": "quantitative", "scale": {"domain": [-70.4, 70], "range": [774, 623], "nice": false, "zero": false}, "axis": null},
  "x": {"datum": -0.822, "type": "quantitative", "scale": {"domain": [-0.822, 239.37], "range": [0, 1823], "nice": false, "zero": false}, "axis": null},
  "x2": {"datum": 239.37}}},
{"data": {"name": "markers"}, "mark": {"type": "point", "shape": "triangle-down", "filled": true, "color": "#f5a21c", "size": 45, "opacity": 1},
 "encoding": {
  "x": {"field": "j", "type": "quantitative", "scale": {"domain": [-0.822, 239.37], "range": [0, 1823], "nice": false, "zero": false},
        "axis": {"orient": "top", "offset": -22, "values": [18,42,66,80,90,114,138,162,186,210], "ticks": false, "domain": false, "labelPadding": 4, "labelFontSize": 12.5, "labelFlush": false, "title": null,
                 "labelExpr": "datum.value == 18 ? '29.12' : datum.value == 42 ? '30.12' : datum.value == 66 ? '31.12' : datum.value == 80 ? '2016' : datum.value == 90 ? '04.01' : datum.value == 114 ? '05.01' : datum.value == 138 ? '06.01' : datum.value == 162 ? '07.01' : datum.value == 186 ? '08.01' : '09.01'"}},
  "y": {"datum": 0.64, "type": "quantitative", "scale": {"domain": [0, 1], "range": [33, 22], "nice": false, "zero": false}, "axis": null}}},
{"data": {"values": [{}]}, "mark": {"type": "rect", "filled": false, "stroke": "#c6d0dc", "strokeWidth": 2},
 "encoding": {
  "x": {"datum": -0.822, "type": "quantitative", "scale": {"domain": [-0.822, 239.37], "range": [0, 1823], "nice": false, "zero": false}, "axis": null},
  "x2": {"datum": 239.37},
  "y": {"datum": 1.069032, "type": "quantitative", "scale": {"domain": [1.069032, 1.100183], "range": [425.5, 33], "nice": false, "zero": false}, "axis": null},
  "y2": {"datum": 1.100183}}},
{"data": {"values": [{}]}, "mark": {"type": "rect", "filled": false, "stroke": "#c6d0dc", "strokeWidth": 2},
 "encoding": {
  "x": {"datum": -0.822, "type": "quantitative", "scale": {"domain": [-0.822, 239.37], "range": [0, 1823], "nice": false, "zero": false}, "axis": null},
  "x2": {"datum": 239.37},
  "y": {"datum": -71, "type": "quantitative", "scale": {"domain": [-71, 69.2], "range": [620, 470], "nice": false, "zero": false}, "axis": null},
  "y2": {"datum": 69.2}}},
{"data": {"values": [{}]}, "mark": {"type": "rect", "filled": false, "stroke": "#c6d0dc", "strokeWidth": 2},
 "encoding": {
  "x": {"datum": -0.822, "type": "quantitative", "scale": {"domain": [-0.822, 239.37], "range": [0, 1823], "nice": false, "zero": false}, "axis": null},
  "x2": {"datum": 239.37},
  "y": {"datum": -70.4, "type": "quantitative", "scale": {"domain": [-70.4, 70], "range": [774, 623], "nice": false, "zero": false}, "axis": null},
  "y2": {"datum": 70}}},
{"data": {"values": [{}]}, "mark": {"type": "rect", "filled": false, "stroke": "#c6d0dc", "strokeWidth": 2},
 "encoding": {
  "x": {"datum": -0.822, "type": "quantitative", "scale": {"domain": [-0.822, 239.37], "range": [0, 1823], "nice": false, "zero": false}, "axis": null},
  "x2": {"datum": 239.37},
  "y": {"datum": 533, "type": "quantitative", "scale": {"domain": [533, 876.4], "range": [903, 778], "nice": false, "zero": false}, "axis": null},
  "y2": {"datum": 876.4}}},
{"data": {"values": [{"p": 1.08717}]}, "mark": {"type": "rect", "color": "#66c8f8"},
 "encoding": {
  "x": {"datum": 241.3, "type": "quantitative", "scale": {"domain": [-0.822, 239.37], "range": [0, 1823], "nice": false, "zero": false}, "axis": null},
  "x2": {"datum": 248.6},
  "y": {"datum": 1.0864, "type": "quantitative", "scale": {"domain": [1.069032, 1.100183], "range": [425.5, 33], "nice": false, "zero": false}, "axis": null},
  "y2": {"datum": 1.08794}}},
{"data": {"values": [{"p": 1.08717}]}, "mark": {"type": "text", "align": "left", "baseline": "middle", "font": "DejaVu Sans", "fontSize": 12, "color": "#000000", "text": "1,08717"},
 "encoding": {
  "x": {"datum": 241.6, "type": "quantitative", "scale": {"domain": [-0.822, 239.37], "range": [0, 1823], "nice": false, "zero": false}, "axis": null},
  "y": {"field": "p", "type": "quantitative", "scale": {"domain": [1.069032, 1.100183], "range": [425.5, 33], "nice": false, "zero": false}, "axis": null}}},
{"data": {"values": [{"v": 60.1}]}, "mark": {"type": "text", "align": "left", "baseline": "middle", "font": "DejaVu Sans", "fontSize": 13, "color": "#14ea14", "text": "OPENHIGH VS OPENLOW(EUR/USD) -"},
 "encoding": {
  "x": {"datum": 0.55, "type": "quantitative", "scale": {"domain": [-0.822, 239.37], "range": [0, 1823], "nice": false, "zero": false}, "axis": null},
  "y": {"field": "v", "type": "quantitative", "scale": {"domain": [-71, 69.2], "range": [620, 470], "nice": false, "zero": false}, "axis": null}}},
{"data": {"values": [{"v": 60.1}]}, "mark": {"type": "text", "align": "left", "baseline": "middle", "font": "DejaVu Sans", "fontSize": 13, "color": "#14ea14", "text": "OH: 10,90000"},
 "encoding": {
  "x": {"datum": 33.83, "type": "quantitative", "scale": {"domain": [-0.822, 239.37], "range": [0, 1823], "nice": false, "zero": false}, "axis": null},
  "y": {"field": "v", "type": "quantitative", "scale": {"domain": [-71, 69.2], "range": [620, 470], "nice": false, "zero": false}, "axis": null}}},
{"data": {"values": [{"v": 60.1}]}, "mark": {"type": "text", "align": "left", "baseline": "middle", "font": "DejaVu Sans", "fontSize": 13, "color": "#fe1a1a", "text": "OL: - 4,80000"},
 "encoding": {
  "x": {"datum": 47.06, "type": "quantitative", "scale": {"domain": [-0.822, 239.37], "range": [0, 1823], "nice": false, "zero": false}, "axis": null},
  "y": {"field": "v", "type": "quantitative", "scale": {"domain": [-71, 69.2], "range": [620, 470], "nice": false, "zero": false}, "axis": null}}},
{"data": {"values": [{"v": 61.0}]}, "mark": {"type": "text", "align": "left", "baseline": "middle", "font": "DejaVu Sans", "fontSize": 13, "color": "#14ea14", "text": "OPENHIGH VS OPENLOW(EUR/USD): 6,1000"},
 "encoding": {
  "x": {"datum": 0.55, "type": "quantitative", "scale": {"domain": [-0.822, 239.37], "range": [0, 1823], "nice": false, "zero": false}, "axis": null},
  "y": {"field": "v", "type": "quantitative", "scale": {"domain": [-70.4, 70], "range": [774, 623], "nice": false, "zero": false}, "axis": null}}},
{"data": {"values": [{"v": 850.8}]}, "mark": {"type": "text", "align": "left", "baseline": "middle", "font": "DejaVu Sans", "fontSize": 13, "color": "#14ea14", "text": "OPENHIGH VS OPENLOW(EUR/USD): 794,5000"},
 "encoding": {
  "x": {"datum": 0.55, "type": "quantitative", "scale": {"domain": [-0.822, 239.37], "range": [0, 1823], "nice": false, "zero": false}, "axis": null},
  "y": {"field": "v", "type": "quantitative", "scale": {"domain": [533, 876.4], "range": [903, 778], "nice": false, "zero": false}, "axis": null}}},
{"data": {"values": [{"v": 552.2}]}, "mark": {"type": "text", "align": "right", "baseline": "middle", "font": "DejaVu Sans", "fontSize": 13, "color": "#34345f", "text": "FXCM Marketscope © 2016"},
 "encoding": {
  "x": {"datum": 239.2, "type": "quantitative", "scale": {"domain": [-0.822, 239.37], "range": [0, 1823], "nice": false, "zero": false}, "axis": null},
  "y": {"field": "v", "type": "quantitative", "scale": {"domain": [533, 876.4], "range": [903, 778], "nice": false, "zero": false}, "axis": null}}}
]
}
